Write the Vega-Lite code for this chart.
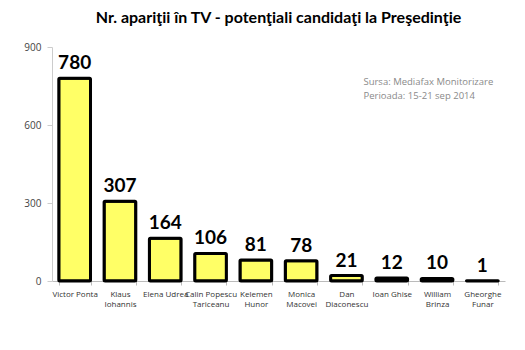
{
  "$schema": "https://vega.github.io/schema/vega-lite/v6.json",
  "autosize": {"type": "none"},
  "width": 453,
  "height": 234,
  "padding": {"left": 52, "top": 47, "right": 20, "bottom": 69},
  "background": "white",
  "title": {
    "text": "Nr. apariţii în TV - potenţiali candidaţi la Preşedinţie",
    "font": "Lato",
    "fontSize": 16,
    "fontWeight": "bold",
    "color": "#000000",
    "anchor": "middle",
    "offset": 16
  },
  "config": {"view": {"stroke": null}},
  "data": {
    "values": [
      {"name": "Victor Ponta", "value": 780},
      {"name": "Klaus|Iohannis", "value": 307},
      {"name": "Elena Udrea", "value": 164},
      {"name": "Calin Popescu|Tariceanu", "value": 106},
      {"name": "Kelemen|Hunor", "value": 81},
      {"name": "Monica|Macovei", "value": 78},
      {"name": "Dan|Diaconescu", "value": 21},
      {"name": "Ioan Ghise", "value": 12},
      {"name": "William|Brinza", "value": 10},
      {"name": "Gheorghe|Funar", "value": 1}
    ]
  },
  "encoding": {
    "x": {
      "field": "name",
      "type": "nominal",
      "sort": null,
      "scale": {"paddingInner": 0.3, "paddingOuter": 0.15},
      "axis": {
        "title": null,
        "labelAngle": 0,
        "labelExpr": "datum.value ? split(datum.value, '|') : ''",
        "labelFont": "Open Sans",
        "labelFontSize": 8,
        "labelColor": "#333333",
        "labelPadding": 5,
        "domainColor": "#bbbbbb",
        "tickColor": "#bbbbbb",
        "tickBand": "extent",
        "tickSize": 4
      }
    },
    "y": {
      "field": "value",
      "type": "quantitative",
      "scale": {"domain": [0, 900]},
      "axis": {
        "title": null,
        "values": [0, 300, 600, 900],
        "grid": false,
        "labelFont": "Open Sans",
        "labelFontSize": 10,
        "labelColor": "#444444",
        "labelPadding": 6,
        "domainColor": "#cccccc",
        "tickColor": "#cccccc",
        "tickSize": 5
      }
    }
  },
  "layer": [
    {
      "mark": {"type": "bar", "fill": "#FFFF66", "stroke": "#000000", "strokeWidth": 3, "strokeJoin": "round", "cornerRadius": 1}
    },
    {
      "mark": {"type": "text", "baseline": "bottom", "dy": -5, "font": "Lato", "fontSize": 19, "fontWeight": "bold", "color": "#000000"},
      "encoding": {"text": {"field": "value", "type": "quantitative"}}
    },
    {
      "data": {"values": [
        {"name": "Dan|Diaconescu", "v": 765, "t": "Sursa: Mediafax Monitorizare"},
        {"name": "Dan|Diaconescu", "v": 710, "t": "Perioada: 15-21 sep 2014"}
      ]},
      "mark": {"type": "text", "align": "left", "baseline": "middle", "dx": 17, "font": "Open Sans", "fontSize": 9.5, "color": "#8a8a8a"},
      "encoding": {
        "x": {"field": "name", "type": "nominal", "sort": null},
        "y": {"field": "v", "type": "quantitative"},
        "text": {"field": "t"}
      }
    }
  ]
}
